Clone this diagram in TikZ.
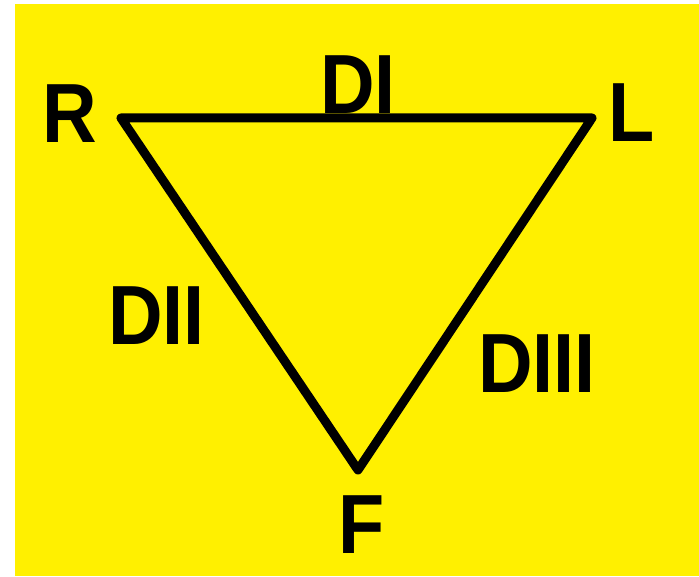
\documentclass[tikz,border=0pt]{standalone}
\usepackage{fontspec}
\setmainfont{Liberation Sans}
\definecolor{bgyellow}{RGB}{255,240,0}
\tikzset{
  lbl/.style={inner sep=0pt, font=\fontsize{84}{84}\selectfont\bfseries, xscale=0.9},
  edge/.style={line width=9pt, line join=round, line cap=round, black}
}
\begin{document}
\begin{tikzpicture}[x=1pt,y=1pt]
\useasboundingbox (0,0) rectangle (699,576);
\fill[white] (0,0) rectangle (699,576);
\fill[bgyellow] (15,0) rectangle (699,572);
\coordinate (R) at (121,458);
\coordinate (L) at (592,458);
\coordinate (F) at (358,106);
\draw[edge] (R) -- (L) -- (F) -- cycle;
\node[lbl] (tR) at (69.5,462.5) {R};
\node[lbl] (tL) at (632,463) {L};
\node[lbl] (tF) at (362,51.5) {F};
\node[lbl] (tDI) at (358,491) {DI};
\node[lbl] (tDII) at (156.5,260.5) {DII};
\node[lbl] (tDIII) at (537,212.5) {DIII};
\end{tikzpicture}
\end{document}
